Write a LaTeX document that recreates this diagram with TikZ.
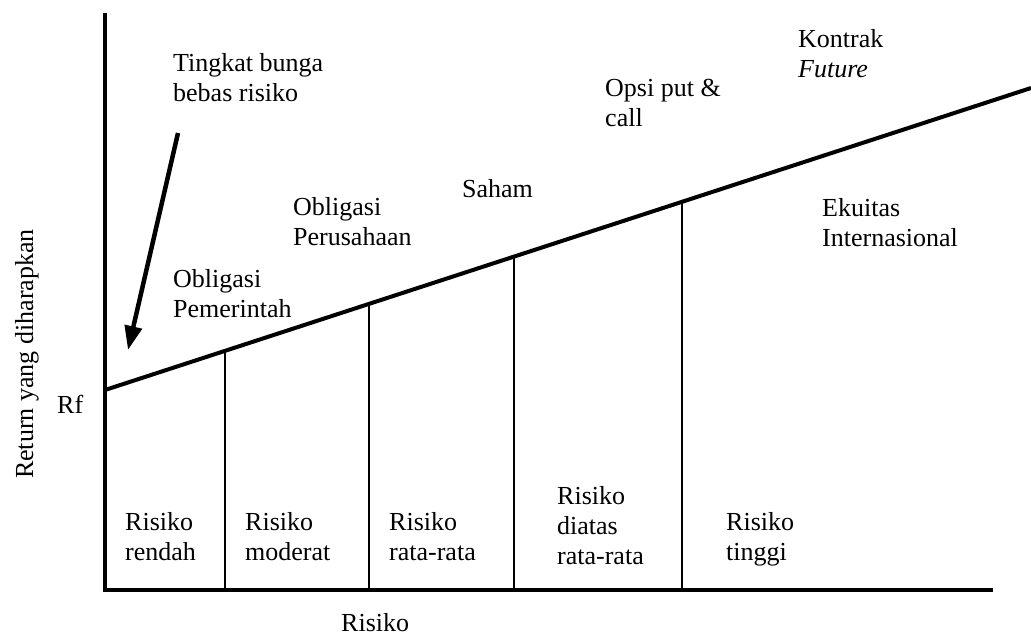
\documentclass[tikz,border=0pt]{standalone}
\usepackage{fontspec}
\setmainfont{Liberation Serif}
\usetikzlibrary{arrows.meta,calc}
\begin{document}
\begin{tikzpicture}[x=1pt,y=-1pt,
  lbl/.style={font=\fontsize{26}{30}\selectfont, align=left, anchor=base west, inner sep=0pt},
  axisline/.style={line width=4pt, line join=miter},
  mainline/.style={line width=4pt},
  divline/.style={line width=1.6pt},
  bigarrow/.style={line width=4.5pt, -{Triangle[length=24pt,width=17pt]}}]
\useasboundingbox (0,0) rectangle (1031,636);
\coordinate (Ytop) at (105,13);
\coordinate (O) at (105,590);
\coordinate (Xend) at (993,590);
\coordinate (L0) at (105,390);
\coordinate (L1) at (1031,88);
\coordinate (d1) at ($(L0)!0.1296!(L1)$);
\coordinate (d2) at ($(L0)!0.2851!(L1)$);
\coordinate (d3) at ($(L0)!0.4417!(L1)$);
\coordinate (d4) at ($(L0)!0.6231!(L1)$);
\coordinate (a1) at (178,133);
\coordinate (a2) at (128,350);
% axes
\draw[axisline] (Ytop) -- (O) -- (Xend);
% main line
\draw[mainline] (L0) -- (L1);
% dividers
\foreach \d in {d1,d2,d3,d4} \draw[divline] (\d) -- (\d |- O);
% arrow
\draw[bigarrow] (a1) -- (a2);
% labels (anchor = baseline of last line)
\node[lbl] (tb) at (173,102) {Tingkat bunga\\bebas risiko};
\node[lbl] (op) at (173,318) {Obligasi\\Pemerintah};
\node[lbl] (ops) at (293,246) {Obligasi\\Perusahaan};
\node[lbl] (sh) at (462,198) {Saham};
\node[lbl] (opc) at (605,127) {Opsi put \&\\call};
\node[lbl] (kf) at (798,78) {Kontrak\\\textit{Future}};
\node[lbl] (ei) at (822,247) {Ekuitas\\Internasional};
\node[lbl] (rf) at (57,413) {Rf};
\node[lbl, anchor=base, rotate=90] (ry) at (33,354) {Return yang diharapkan};
\node[lbl] (rx) at (341,631) {Risiko};
\node[lbl] (r1) at (125,560) {Risiko\\rendah};
\node[lbl] (r2) at (245,560) {Risiko\\moderat};
\node[lbl] (r3) at (389,560) {Risiko\\rata-rata};
\node[lbl] (r4) at (557,564) {Risiko\\diatas\\rata-rata};
\node[lbl] (r5) at (726,560) {Risiko\\tinggi};
\end{tikzpicture}
\end{document}
